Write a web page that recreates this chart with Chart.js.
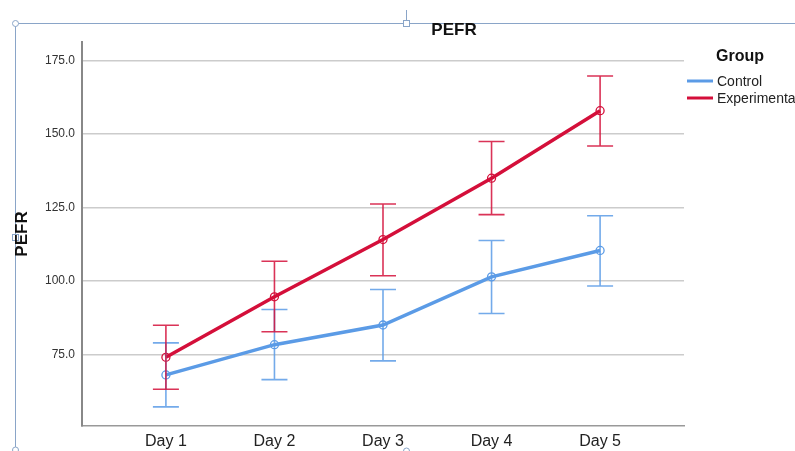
<!DOCTYPE html>
<html>
<head>
<meta charset="utf-8">
<script src="https://cdn.jsdelivr.net/npm/chart.js@4"></script>
<style>
  html, body { margin: 0; padding: 0; background: #fff; }
  #wrap { width: 795px; height: 451px; position: relative; }
</style>
</head>
<body>
<div id="wrap"><canvas id="c" width="795" height="451"></canvas></div>
<script>
// data
const days = ['Day 1', 'Day 2', 'Day 3', 'Day 4', 'Day 5'];
const groups = ['Control', 'Experimental'];
const controlMean = [68.0, 78.3, 85.0, 101.4, 110.4];
const controlLow  = [57.1, 66.4, 72.8, 88.9, 98.3];
const controlHigh = [78.9, 90.3, 97.1, 113.8, 122.2];
const expMean = [74.0, 94.6, 114.1, 135.0, 158.0];
const expLow  = [63.1, 82.7, 101.8, 122.6, 146.0];
const expHigh = [84.9, 106.7, 126.2, 147.5, 169.8];
const yTicks = [75, 100, 125, 150, 175];

const blue = '#5b9be6';
const red = '#d40f3a';
const font = '"Liberation Sans", Arial, sans-serif';

const toPoints = arr => arr.map((v, i) => ({ x: i + 1, y: v }));

// error bars (draws through the chart scales)
const errorBars = {
    id: 'errorBars',
    afterDatasetsDraw(chart) {
        const { ctx, scales: { x, y } } = chart;
        chart.data.datasets.forEach(ds => {
            ctx.save();
            ctx.strokeStyle = ds.errColor;
            ctx.lineWidth = 1.6;
            ds.low.forEach((lo, i) => {
                const px = x.getPixelForValue(i + 1);
                const yl = y.getPixelForValue(lo);
                const yh = y.getPixelForValue(ds.high[i]);
                ctx.beginPath();
                ctx.moveTo(px, yl); ctx.lineTo(px, yh);
                ctx.moveTo(px - 13, yl); ctx.lineTo(px + 13, yl);
                ctx.moveTo(px - 13, yh); ctx.lineTo(px + 13, yh);
                ctx.stroke();
            });
            ctx.restore();
        });
    }
};

// title, legend on the right + editor frame lines
const extras = {
    id: 'extras',
    beforeDraw(chart) {
        const ctx = chart.ctx;
        ctx.save();
        ctx.strokeStyle = '#8aa5c8';
        ctx.fillStyle = '#fff';
        ctx.lineWidth = 1;
        ctx.beginPath();
        ctx.moveTo(15.5, 23.5); ctx.lineTo(795, 23.5);
        ctx.moveTo(15.5, 23.5); ctx.lineTo(15.5, 451);
        ctx.moveTo(406.5, 10); ctx.lineTo(406.5, 23.5);
        ctx.stroke();
        ctx.beginPath(); ctx.arc(15.5, 23.5, 3, 0, Math.PI * 2); ctx.fill(); ctx.stroke();
        ctx.beginPath(); ctx.arc(15.5, 450, 3, 0, Math.PI * 2); ctx.fill(); ctx.stroke();
        ctx.beginPath(); ctx.arc(406.5, 451, 3, 0, Math.PI * 2); ctx.fill(); ctx.stroke();
        ctx.fillRect(403, 20.5, 6, 6); ctx.strokeRect(403.5, 20.5, 6, 6);
        ctx.fillRect(12.5, 234, 6, 6); ctx.strokeRect(12.5, 234.5, 6, 6);
        ctx.restore();
    },
    afterDraw(chart) {
        const ctx = chart.ctx;
        ctx.save();
        ctx.textBaseline = 'middle';
        ctx.fillStyle = '#111';
        ctx.textAlign = 'center';
        ctx.font = 'bold 17px ' + font;
        ctx.fillText('PEFR', 454, 30);
        ctx.textAlign = 'left';
        ctx.font = 'bold 16px ' + font;
        ctx.fillText('Group', 716, 57);
        ctx.font = '14px ' + font;
        ctx.fillStyle = '#222';
        [blue, red].forEach((col, i) => {
            const yy = 81 + i * 17;
            ctx.strokeStyle = col;
            ctx.lineWidth = 3;
            ctx.beginPath();
            ctx.moveTo(687, yy); ctx.lineTo(713, yy);
            ctx.stroke();
            ctx.fillText(groups[i], 717, yy + 1);
        });
        ctx.restore();
    }
};

new Chart(document.getElementById('c'), {
    type: 'line',
    data: {
        datasets: [
            {
                label: groups[0],
                data: toPoints(controlMean),
                low: controlLow, high: controlHigh,
                borderColor: blue, errColor: 'rgba(91,155,230,0.85)',
                borderWidth: 3.5,
                pointRadius: 4, pointBorderWidth: 1.3,
                pointBackgroundColor: 'rgba(255,255,255,0)',
                pointBorderColor: blue
            },
            {
                label: groups[1],
                data: toPoints(expMean),
                low: expLow, high: expHigh,
                borderColor: red, errColor: 'rgba(212,15,58,0.85)',
                borderWidth: 3.5,
                pointRadius: 4, pointBorderWidth: 1.3,
                pointBackgroundColor: 'rgba(255,255,255,0)',
                pointBorderColor: red
            }
        ]
    },
    options: {
        responsive: false,
        animation: false,
        layout: { padding: { top: 42, right: 111, bottom: 0, left: 0 } },
        plugins: {
            legend: { display: false },
            tooltip: { enabled: false },
            title: { display: false }
        },
        scales: {
            x: {
                type: 'linear',
                min: 0.227, max: 5.773,
                grid: { display: false, drawTicks: false },
                border: { color: '#999', width: 1.5 },
                afterBuildTicks: s => { s.ticks = days.map((d, i) => ({ value: i + 1 })); },
                afterFit: s => { s.height = 25; },
                ticks: {
                    callback: v => days[v - 1],
                    color: '#222',
                    padding: 6,
                    maxRotation: 0,
                    font: { family: font, size: 16 }
                }
            },
            y: {
                min: 50.6, max: 181.4,
                grid: { color: '#cccccc', lineWidth: 1.6, drawTicks: false },
                border: { color: '#888', width: 2 },
                afterBuildTicks: s => { s.ticks = yTicks.map(v => ({ value: v })); },
                afterFit: s => { s.width = 82; },
                title: {
                    display: true,
                    text: 'PEFR',
                    color: '#111',
                    font: { family: font, size: 17, weight: 'bold' },
                    padding: { top: 12 }
                },
                ticks: {
                    callback: v => v.toFixed(1),
                    color: '#333',
                    padding: 7,
                    font: { family: font, size: 12 }
                }
            }
        }
    },
    plugins: [errorBars, extras]
});
</script>
</body>
</html>
